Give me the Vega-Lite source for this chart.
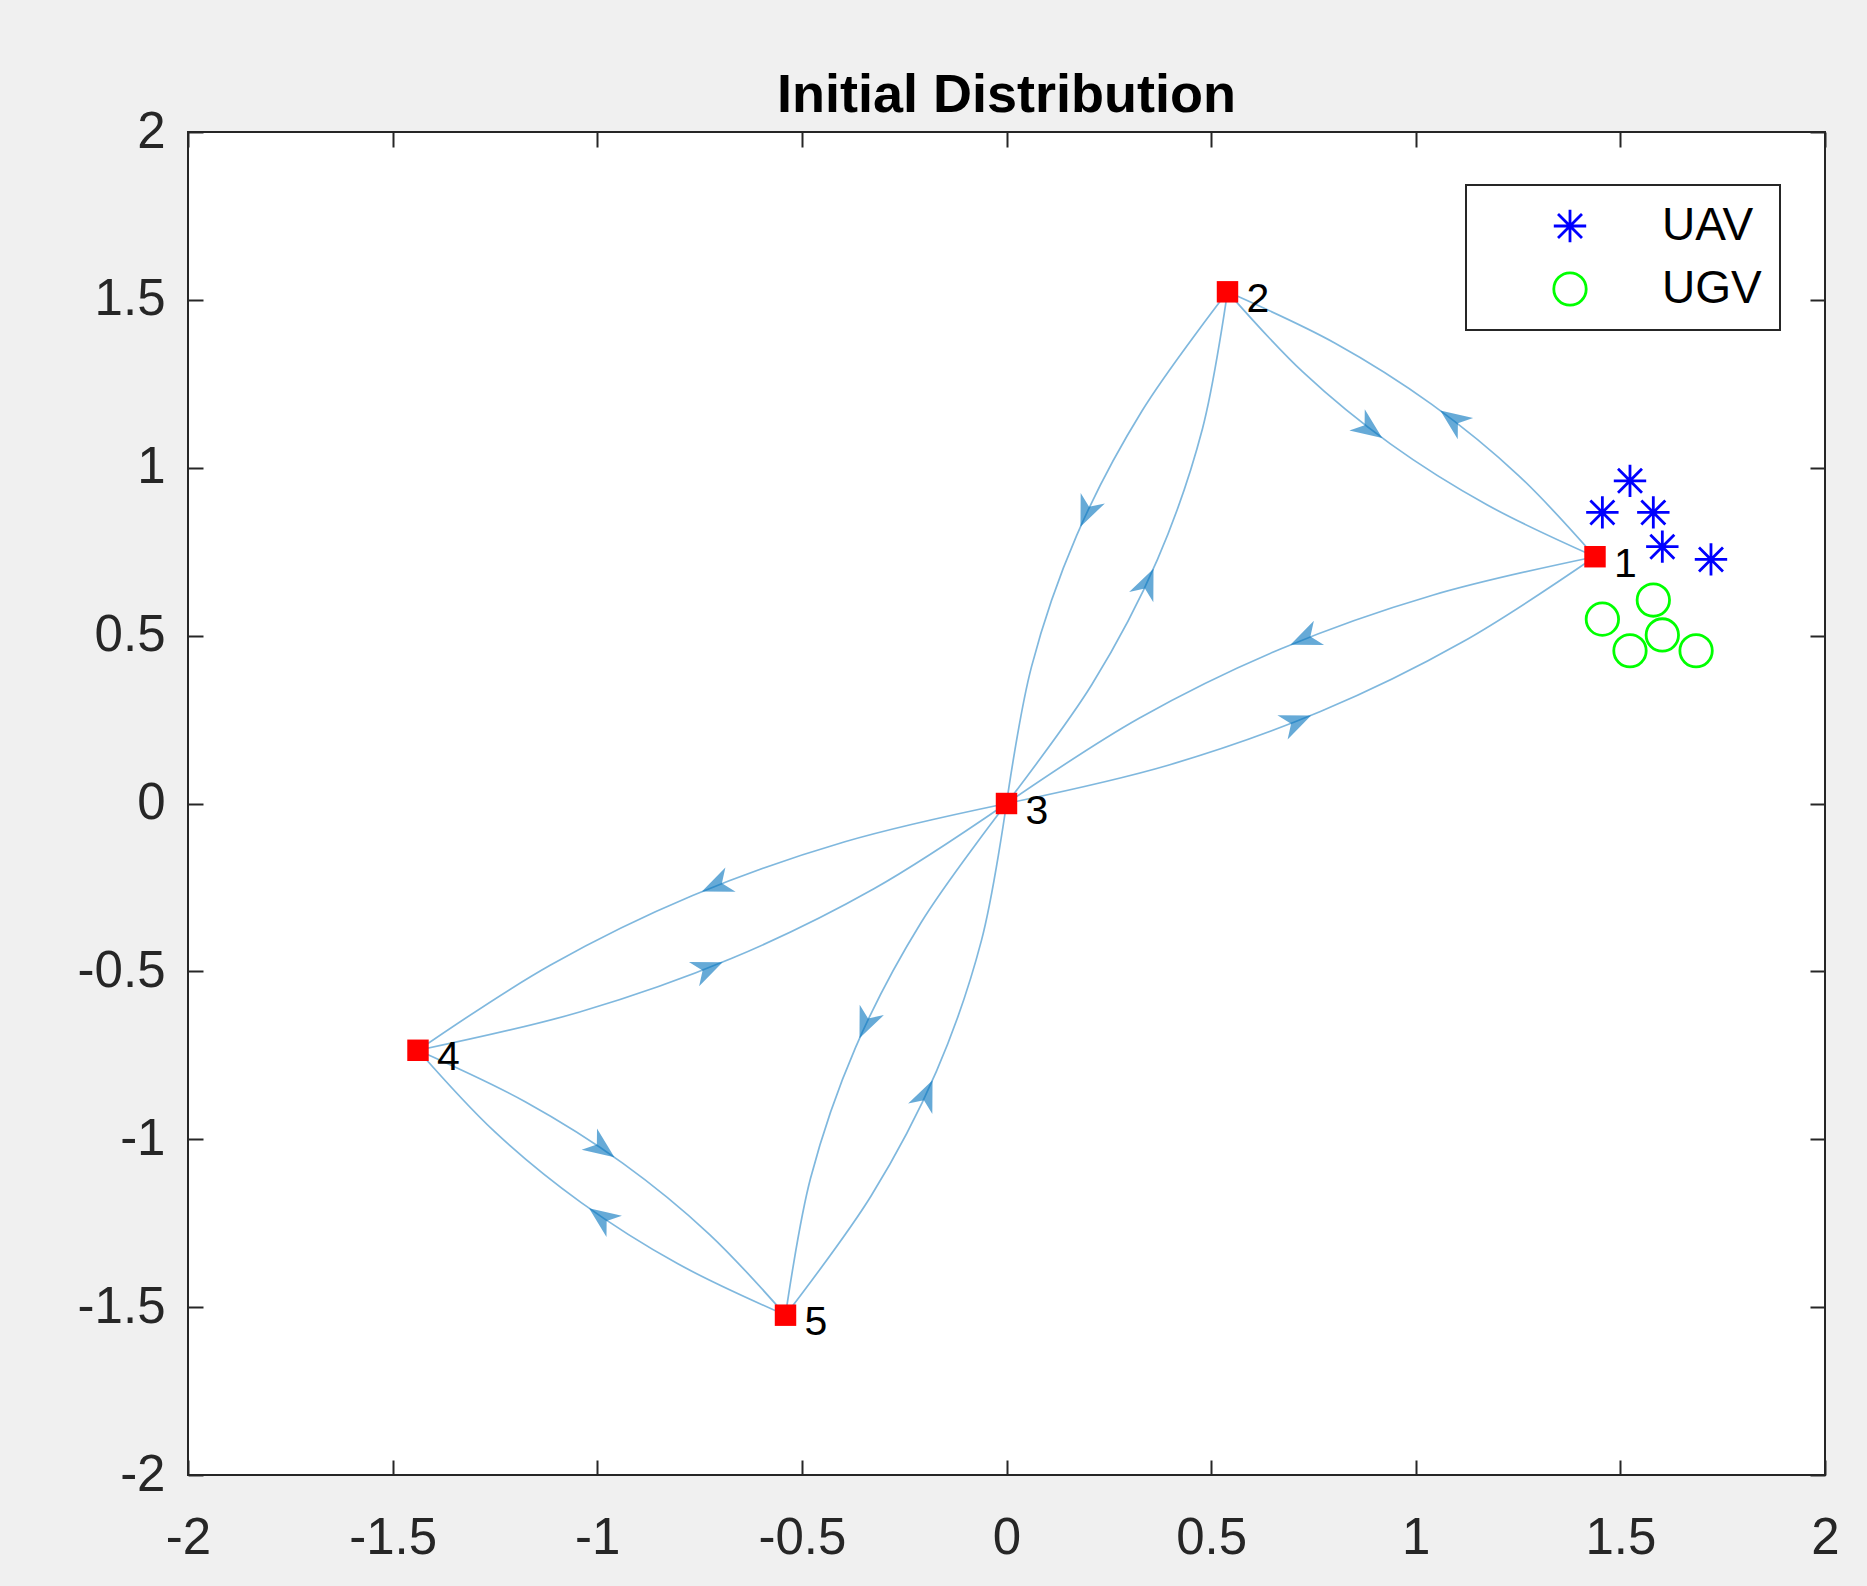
{
  "$schema": "https://vega.github.io/schema/vega-lite/v6.json",
  "width": 1637,
  "height": 1343,
  "autosize": {"type": "none"},
  "padding": {"left": 188, "top": 132, "right": 42, "bottom": 111},
  "background": "#f0f0f0",
  "title": {
    "text": "Initial Distribution",
    "font": "Liberation Sans",
    "fontSize": 54,
    "fontWeight": "bold",
    "color": "#000000",
    "anchor": "middle",
    "baseline": "alphabetic",
    "offset": 24,
    "dy": 84
  },
  "datasets": {
    "edges": [
      {"edge": "1-2", "i": 0, "x": 1.438, "y": 0.735},
      {"edge": "1-2", "i": 1, "x": 1.252, "y": 0.976},
      {"edge": "1-2", "i": 2, "x": 1.040, "y": 1.188},
      {"edge": "1-2", "i": 3, "x": 0.803, "y": 1.371},
      {"edge": "1-2", "i": 4, "x": 0.540, "y": 1.524},
      {"edge": "2-1", "i": 0, "x": 0.540, "y": 1.524},
      {"edge": "2-1", "i": 1, "x": 0.726, "y": 1.283},
      {"edge": "2-1", "i": 2, "x": 0.938, "y": 1.071},
      {"edge": "2-1", "i": 3, "x": 1.175, "y": 0.889},
      {"edge": "2-1", "i": 4, "x": 1.438, "y": 0.735},
      {"edge": "1-3", "i": 0, "x": 1.438, "y": 0.735},
      {"edge": "1-3", "i": 1, "x": 1.043, "y": 0.621},
      {"edge": "1-3", "i": 2, "x": 0.671, "y": 0.461},
      {"edge": "1-3", "i": 3, "x": 0.324, "y": 0.254},
      {"edge": "1-3", "i": 4, "x": 0.0, "y": 0.0},
      {"edge": "3-1", "i": 0, "x": 0.0, "y": 0.0},
      {"edge": "3-1", "i": 1, "x": 0.395, "y": 0.114},
      {"edge": "3-1", "i": 2, "x": 0.767, "y": 0.274},
      {"edge": "3-1", "i": 3, "x": 1.114, "y": 0.481},
      {"edge": "3-1", "i": 4, "x": 1.438, "y": 0.735},
      {"edge": "2-3", "i": 0, "x": 0.540, "y": 1.524},
      {"edge": "2-3", "i": 1, "x": 0.331, "y": 1.169},
      {"edge": "2-3", "i": 2, "x": 0.171, "y": 0.797},
      {"edge": "2-3", "i": 3, "x": 0.061, "y": 0.407},
      {"edge": "2-3", "i": 4, "x": 0.0, "y": 0.0},
      {"edge": "3-2", "i": 0, "x": 0.0, "y": 0.0},
      {"edge": "3-2", "i": 1, "x": 0.209, "y": 0.355},
      {"edge": "3-2", "i": 2, "x": 0.369, "y": 0.727},
      {"edge": "3-2", "i": 3, "x": 0.479, "y": 1.117},
      {"edge": "3-2", "i": 4, "x": 0.540, "y": 1.524},
      {"edge": "4-3", "i": 0, "x": -1.438, "y": -0.735},
      {"edge": "4-3", "i": 1, "x": -1.043, "y": -0.621},
      {"edge": "4-3", "i": 2, "x": -0.671, "y": -0.461},
      {"edge": "4-3", "i": 3, "x": -0.324, "y": -0.254},
      {"edge": "4-3", "i": 4, "x": 0.0, "y": 0.0},
      {"edge": "3-4", "i": 0, "x": 0.0, "y": 0.0},
      {"edge": "3-4", "i": 1, "x": -0.395, "y": -0.114},
      {"edge": "3-4", "i": 2, "x": -0.767, "y": -0.274},
      {"edge": "3-4", "i": 3, "x": -1.114, "y": -0.481},
      {"edge": "3-4", "i": 4, "x": -1.438, "y": -0.735},
      {"edge": "5-3", "i": 0, "x": -0.540, "y": -1.524},
      {"edge": "5-3", "i": 1, "x": -0.331, "y": -1.169},
      {"edge": "5-3", "i": 2, "x": -0.171, "y": -0.797},
      {"edge": "5-3", "i": 3, "x": -0.061, "y": -0.407},
      {"edge": "5-3", "i": 4, "x": 0.0, "y": 0.0},
      {"edge": "3-5", "i": 0, "x": 0.0, "y": 0.0},
      {"edge": "3-5", "i": 1, "x": -0.209, "y": -0.355},
      {"edge": "3-5", "i": 2, "x": -0.369, "y": -0.727},
      {"edge": "3-5", "i": 3, "x": -0.479, "y": -1.117},
      {"edge": "3-5", "i": 4, "x": -0.540, "y": -1.524},
      {"edge": "4-5", "i": 0, "x": -1.438, "y": -0.735},
      {"edge": "4-5", "i": 1, "x": -1.252, "y": -0.976},
      {"edge": "4-5", "i": 2, "x": -1.040, "y": -1.188},
      {"edge": "4-5", "i": 3, "x": -0.803, "y": -1.371},
      {"edge": "4-5", "i": 4, "x": -0.540, "y": -1.524},
      {"edge": "5-4", "i": 0, "x": -0.540, "y": -1.524},
      {"edge": "5-4", "i": 1, "x": -0.726, "y": -1.283},
      {"edge": "5-4", "i": 2, "x": -0.938, "y": -1.071},
      {"edge": "5-4", "i": 3, "x": -1.175, "y": -0.889},
      {"edge": "5-4", "i": 4, "x": -1.438, "y": -0.735}
    ],
    "arrows": [
      {"edge": "1-2", "x": 1.040, "y": 1.188, "dir": 215.8},
      {"edge": "2-1", "x": 0.938, "y": 1.071, "dir": 35.8},
      {"edge": "1-3", "x": 0.671, "y": 0.461, "dir": 157.25},
      {"edge": "3-1", "x": 0.767, "y": 0.274, "dir": 337.25},
      {"edge": "2-3", "x": 0.171, "y": 0.797, "dir": 113.36},
      {"edge": "3-2", "x": 0.369, "y": 0.727, "dir": 293.36},
      {"edge": "4-3", "x": -0.671, "y": -0.461, "dir": 337.25},
      {"edge": "3-4", "x": -0.767, "y": -0.274, "dir": 157.25},
      {"edge": "5-3", "x": -0.171, "y": -0.797, "dir": 293.36},
      {"edge": "3-5", "x": -0.369, "y": -0.727, "dir": 113.36},
      {"edge": "4-5", "x": -1.040, "y": -1.188, "dir": 215.8},
      {"edge": "5-4", "x": -0.938, "y": -1.071, "dir": 35.8}
    ],
    "nodes": [
      {"node": "1", "x": 1.438, "y": 0.735},
      {"node": "2", "x": 0.540, "y": 1.524},
      {"node": "3", "x": 0.0, "y": 0.0},
      {"node": "4", "x": -1.438, "y": -0.735},
      {"node": "5", "x": -0.540, "y": -1.524}
    ],
    "agents": [
      {"type": "UAV", "x": 1.5235, "y": 0.961},
      {"type": "UAV", "x": 1.456, "y": 0.867},
      {"type": "UAV", "x": 1.5805, "y": 0.867},
      {"type": "UAV", "x": 1.6025, "y": 0.765},
      {"type": "UAV", "x": 1.7214, "y": 0.727},
      {"type": "UGV", "x": 1.5805, "y": 0.606},
      {"type": "UGV", "x": 1.456, "y": 0.549},
      {"type": "UGV", "x": 1.6025, "y": 0.502},
      {"type": "UGV", "x": 1.5235, "y": 0.455},
      {"type": "UGV", "x": 1.685, "y": 0.455}
    ]
  },
  "resolve": {"axis": {"x": "independent", "y": "independent"}},
  "layer": [
    {
      "data": {"name": "edges"},
      "mark": {"type": "line", "interpolate": "catmull-rom", "color": "#0072BD", "opacity": 0.5, "strokeWidth": 1.7},
      "encoding": {
        "x": {"field": "x", "type": "quantitative", "scale": {"domain": [-2, 2], "nice": false, "zero": false},
              "axis": {"orient": "bottom", "values": [-2, -1.5, -1, -0.5, 0, 0.5, 1, 1.5, 2], "labelExpr": "datum.value + ''"}},
        "y": {"field": "y", "type": "quantitative", "scale": {"domain": [-2, 2], "nice": false, "zero": false},
              "axis": {"orient": "left", "values": [-2, -1.5, -1, -0.5, 0, 0.5, 1, 1.5, 2], "labelExpr": "datum.value + ''"}},
        "detail": {"field": "edge"},
        "order": {"field": "i", "type": "quantitative"}
      }
    },
    {
      "data": {"name": "arrows"},
      "mark": {"type": "point", "shape": "M-0.65,0L-2.65,-0.85L-2.05,0L-2.65,0.85Z", "filled": true, "size": 961, "color": "#0072BD", "opacity": 0.6, "strokeWidth": 0},
      "encoding": {
        "x": {"field": "x", "type": "quantitative", "axis": null},
        "y": {"field": "y", "type": "quantitative", "axis": null},
        "angle": {"field": "dir", "type": "quantitative", "scale": null}
      }
    },
    {
      "data": {"name": "nodes"},
      "mark": {"type": "point", "shape": "square", "filled": true, "size": 460, "color": "#ff0000", "opacity": 1, "strokeWidth": 0},
      "encoding": {
        "x": {"field": "x", "type": "quantitative",
              "axis": {"orient": "top", "labels": false, "values": [-2, -1.5, -1, -0.5, 0, 0.5, 1, 1.5, 2]}},
        "y": {"field": "y", "type": "quantitative",
              "axis": {"orient": "right", "labels": false, "values": [-2, -1.5, -1, -0.5, 0, 0.5, 1, 1.5, 2]}}
      }
    },
    {
      "data": {"name": "nodes"},
      "mark": {"type": "text", "align": "left", "baseline": "alphabetic", "dx": 19, "dy": 20, "font": "Liberation Sans", "fontSize": 41, "color": "#000000"},
      "encoding": {
        "x": {"field": "x", "type": "quantitative", "axis": null},
        "y": {"field": "y", "type": "quantitative", "axis": null},
        "text": {"field": "node"}
      }
    },
    {
      "data": {"name": "agents"},
      "mark": {"type": "point", "filled": false, "size": 1050, "strokeWidth": 2.8, "opacity": 1},
      "encoding": {
        "x": {"field": "x", "type": "quantitative", "axis": null},
        "y": {"field": "y", "type": "quantitative", "axis": null},
        "shape": {"field": "type", "type": "nominal",
                  "scale": {"domain": ["UAV", "UGV"], "range": ["M0,-1L0,1M-1,0L1,0M-0.74,-0.74L0.74,0.74M-0.74,0.74L0.74,-0.74", "circle"]},
                  "legend": {"title": null, "orient": "none", "legendX": 1278, "legendY": 53}},
        "color": {"field": "type", "type": "nominal",
                  "scale": {"domain": ["UAV", "UGV"], "range": ["#0000ff", "#00ff00"]},
                  "legend": {"title": null, "orient": "none", "legendX": 1278, "legendY": 53}}
      }
    }
  ],
  "config": {
    "view": {"stroke": "#262626", "strokeWidth": 2, "fill": "white"},
    "axis": {
      "grid": false,
      "domain": false,
      "ticks": true,
      "tickColor": "#262626",
      "tickWidth": 2,
      "tickSize": -15,
      "labelFont": "Liberation Sans",
      "labelFontSize": 51,
      "labelColor": "#262626",
      "labelFlush": false,
      "labelOverlap": false,
      "title": null
    },
    "axisX": {"labelPadding": 53},
    "axisY": {"labelPadding": 38},
    "legend": {
      "padding": 18,
      "strokeColor": "#262626",
      "strokeWidth": 2,
      "fillColor": "white",
      "symbolOffset": 63,
      "labelOffset": 69,
      "labelFont": "Liberation Sans",
      "labelFontSize": 46,
      "labelColor": "#000000",
      "rowPadding": 17,
      "symbolSize": 1050,
      "symbolStrokeWidth": 2.8
    }
  }
}
